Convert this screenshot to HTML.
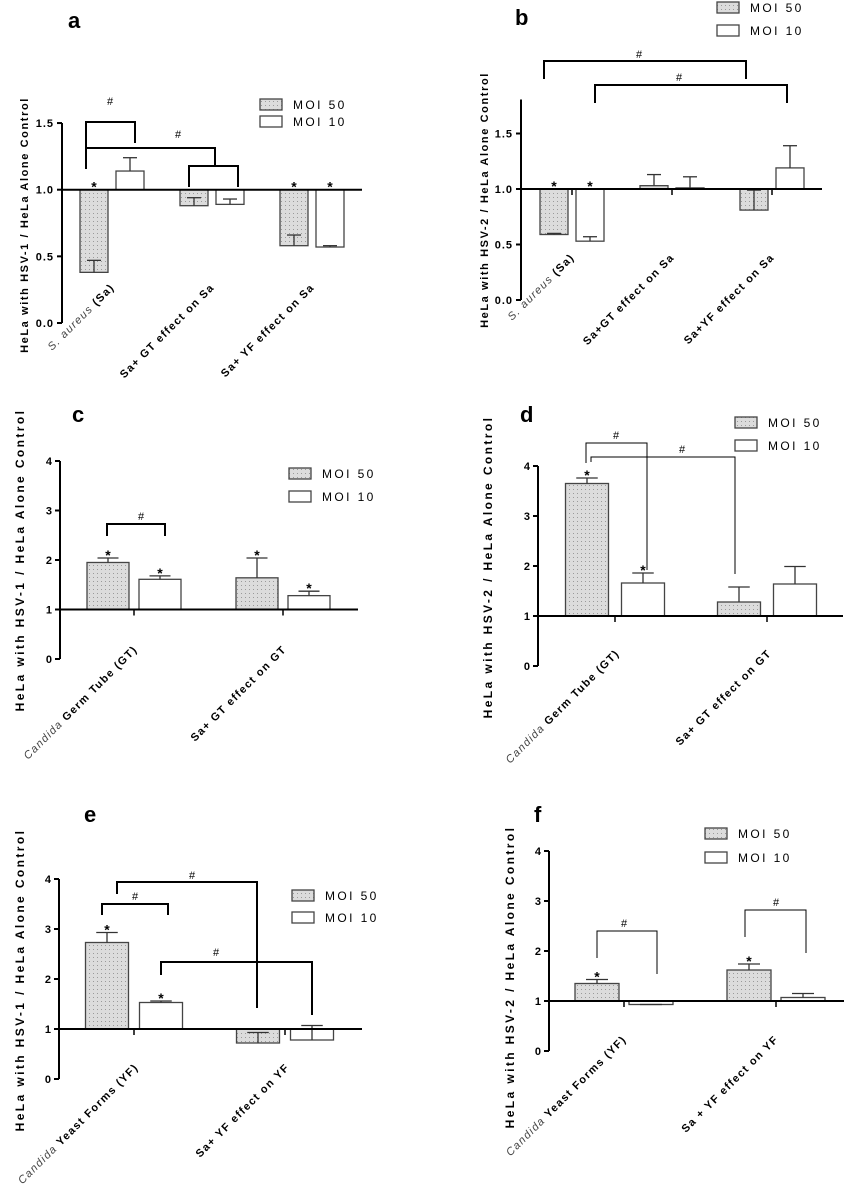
<!DOCTYPE html>
<html><head><meta charset="utf-8">
<style>
html,body{margin:0;padding:0;background:#fff;}
svg{display:block;font-family:"Liberation Sans",sans-serif;}
</style></head>
<body>
<svg id="fig" width="844" height="1200" viewBox="0 0 844 1200" xmlns="http://www.w3.org/2000/svg">
<defs>
<pattern id="dots" width="4" height="4" patternUnits="userSpaceOnUse">
<rect width="4" height="4" fill="#dcdcdc"/>
<rect x="1" y="1" width="1" height="1" fill="#9a9a9a"/>
</pattern>
</defs>
</svg>
<script>
// ---- data ----
const aCats = ["S. aureus (Sa)", "Sa+ GT effect on Sa", "Sa+ YF effect on Sa"];
const aMoi50 = [0.38, 0.88, 0.58];
const aMoi50Err = [0.47, 0.94, 0.66];
const aMoi10 = [1.14, 0.89, 0.57];
const aMoi10Err = [1.24, 0.93, 0.58];
const aTicks = ["0.0", "0.5", "1.0", "1.5"];
const aTickVals = [0, 0.5, 1, 1.5];

const bCats = ["S. aureus (Sa)", "Sa+GT effect on Sa", "Sa+YF effect on Sa"];
const bMoi50 = [0.59, 1.03, 0.81];
const bMoi50Err = [0.60, 1.13, 0.99];
const bMoi10 = [0.53, 1.01, 1.19];
const bMoi10Err = [0.57, 1.11, 1.39];
const bTicks = ["0.0", "0.5", "1.0", "1.5"];
const bTickVals = [0, 0.5, 1, 1.5];

const cCats = ["Candida Germ Tube (GT)", "Sa+ GT effect on GT"];
const cMoi50 = [1.95, 1.64];
const cMoi50Err = [2.04, 2.04];
const cMoi10 = [1.61, 1.28];
const cMoi10Err = [1.68, 1.37];

const dCats = ["Candida Germ Tube (GT)", "Sa+ GT effect on GT"];
const dMoi50 = [3.65, 1.28];
const dMoi50Err = [3.76, 1.58];
const dMoi10 = [1.66, 1.64];
const dMoi10Err = [1.86, 1.99];

const eCats = ["Candida Yeast Forms (YF)", "Sa+ YF effect on YF"];
const eMoi50 = [2.73, 0.72];
const eMoi50Err = [2.93, 0.93];
const eMoi10 = [1.53, 0.78];
const eMoi10Err = [1.56, 1.07];

const fCats = ["Candida Yeast Forms (YF)", "Sa + YF effect on YF"];
const fMoi50 = [1.35, 1.62];
const fMoi50Err = [1.43, 1.74];
const fMoi10 = [0.93, 1.07];
const fMoi10Err = [0.93, 1.15];

const intTicks = ["0", "1", "2", "3", "4"];
const intTickVals = [0, 1, 2, 3, 4];

const NS = "http://www.w3.org/2000/svg";
const svg = document.getElementById("fig");
function mk(tag, attrs, parent, txt) {
  const e = document.createElementNS(NS, tag);
  for (const k in attrs) e.setAttribute(k, attrs[k]);
  if (txt !== undefined) e.textContent = txt;
  (parent || svg).appendChild(e);
  return e;
}

function panel(p) {
  const g = mk("g", {});
  
  
  const y = v => p.y0 - v * p.unit;
  const gx = i => p.cx + i * p.step;

  const lab = mk("text", {x: p.labX, y: p.labY, "font-size": 22, "font-weight": "bold"}, g, p.id);
  
  

  // y title
  const yt = mk("text", {x: 0, y: 0, "font-size": p.ytFs, "font-weight": "bold", "letter-spacing": p.ytLs,
    "text-anchor": "middle", transform: `translate(${p.ytX},${p.ytY}) rotate(-90)`}, g, p.yTitle);
  
  

  // y axis
  const ax = mk("line", {x1: p.x0, x2: p.x0, y1: y(p.tickVals[p.tickVals.length - 1]) - (p.axExtra || 0), y2: y(0), stroke: "#000", "stroke-width": 2}, g);
  
  
  p.tickVals.forEach((v, i) => {
    const t = mk("line", {x1: p.x0 - 5, x2: p.x0, y1: y(v), y2: y(v), stroke: "#000", "stroke-width": 2}, g);
    
    
    const tl = mk("text", {x: p.x0 - 8, y: y(v) + 4, "font-size": p.tickFs, "font-weight": "bold", "text-anchor": "end", "letter-spacing": p.tickLs}, g, p.ticks[i]);
    
    
  });

  // bars
  const series = [[p.m50, p.e50, "url(#dots)", -p.off, "moi50"], [p.m10, p.e10, "#fff", p.off, "moi10"]];
  series.forEach(s => {
    s[0].forEach((v, i) => {
      const cx = gx(i) + s[3];
      const top = Math.min(y(v), y(1)), h = Math.abs(y(v) - y(1));
      const r = mk("rect", {x: cx - p.bw / 2, y: top, width: p.bw, height: Math.max(h, 1), fill: s[2], stroke: "#444", "stroke-width": 1.3}, g);
      
      
      const ev = s[1][i];
      const el = mk("line", {x1: cx, x2: cx, y1: y(v), y2: y(ev), stroke: "#333", "stroke-width": 1.3}, g);
      
      
      const cap = mk("line", {x1: cx - p.bw / 4, x2: cx + p.bw / 4, y1: y(ev), y2: y(ev), stroke: "#333", "stroke-width": 1.3}, g);
      
      
    });
  });
  // baseline
  const bl = mk("line", {x1: p.x0, x2: p.blEnd, y1: y(1), y2: y(1), stroke: "#000", "stroke-width": 2}, g);
  
  
  p.cats.forEach((c, i) => {
    if (p.xTicks) {
      const t = mk("line", {x1: gx(i), x2: gx(i), y1: y(1), y2: y(1) + 6, stroke: "#000", "stroke-width": 1.5}, g);
      
      
    }
    const ex = gx(i) + p.lblDx, ey = p.lblY;
    const tx = mk("text", {x: 0, y: 0, "font-size": 11, "font-weight": "bold", "letter-spacing": "1.3", "text-anchor": "end",
      transform: `translate(${ex},${ey}) rotate(-45)`}, g);
    
    
    const m = c.match(/^(S\. aureus|Candida)(.*)$/);
    if (m) {
      mk("tspan", {"font-weight": "normal", "font-style": "italic", fill: "#444"}, tx, m[1]);
      mk("tspan", {}, tx, m[2]);
    } else tx.textContent = c;
  });
  // stars
  p.stars.forEach(st => {
    const arr = st[0] === 50 ? [p.m50, p.e50, -p.off] : [p.m10, p.e10, p.off];
    const i = st[1];
    const v = arr[0][i], ev = arr[1][i];
    const top = v > 1 ? y(Math.max(v, ev)) : y(1);
    const s = mk("text", {x: gx(i) + arr[2], y: top + 2, "font-size": 14, "font-weight": "bold", "text-anchor": "middle"}, g, "*");
    
    
  });
  // brackets
  p.brackets.forEach(b => {
    const pl = mk("polyline", {points: `${b[0]},${b[3]} ${b[0]},${b[2]} ${b[1]},${b[2]} ${b[1]},${b[4]}`, fill: "none", stroke: "#000", "stroke-width": b[7] || 2}, g);
    
    
    const h = mk("text", {x: b[5], y: b[6], "font-size": 11, "text-anchor": "middle"}, g, "#");
    
    
  });
  // legend
  [["MOI 50", "url(#dots)", 0], ["MOI 10", "#fff", 1]].forEach(l => {
    const yy = p.legY + l[2] * p.legGap;
    const gr = mk("g", {}, g);
    
    
    mk("rect", {x: p.legX, y: yy, width: 22, height: 11, fill: l[1], stroke: "#444", "stroke-width": 1.3}, gr);
    mk("text", {x: p.legX + 33, y: yy + 10, "font-size": 12, "letter-spacing": "2.4"}, gr, l[0]);
  });
}

const t1 = "HeLa with HSV-1 / HeLa Alone Control";
const t2 = "HeLa with HSV-2 / HeLa Alone Control";

panel({id: "a", labX: 68, labY: 28, ytX: 28, ytY: 225, ytFs: 11, ytLs: 1.6, yTitle: t1, x0: 62, y0: 323, unit: 133.3,
  ticks: aTicks, tickVals: aTickVals, tickFs: 11, tickLs: 1, cx: 112, step: 100, off: 18, bw: 28, blEnd: 362,
  cats: aCats, m50: aMoi50, e50: aMoi50Err, m10: aMoi10, e10: aMoi10Err, xTicks: false, lblDx: 3, lblY: 288,
  stars: [[50, 0], [50, 2], [10, 2]],
  brackets: [[86, 135, 122, 168, 143, 110, 105], [86, 215, 148, 169, 166, 178, 138], [189, 238, 166, 187, 187, 0, -50]],
  legX: 260, legY: 99, legGap: 17});

panel({id: "b", labX: 515, labY: 25, ytX: 488, ytY: 200, ytFs: 11, ytLs: 1.6, yTitle: t2, x0: 521, y0: 300, unit: 111, axExtra: 34,
  ticks: bTicks, tickVals: bTickVals, tickFs: 11, tickLs: 1, cx: 572, step: 100, off: 18, bw: 28, blEnd: 822,
  cats: bCats, m50: bMoi50, e50: bMoi50Err, m10: bMoi10, e10: bMoi10Err, xTicks: true, lblDx: 3, lblY: 258,
  stars: [[50, 0], [10, 0]],
  brackets: [[544, 746, 61, 79, 79, 639, 58], [595, 787, 85, 103, 103, 679, 81]],
  legX: 717, legY: 2, legGap: 23});

panel({id: "c", labX: 72, labY: 422, ytX: 24, ytY: 560, ytFs: 12, ytLs: 2.4, yTitle: t1, x0: 60, y0: 659, unit: 49.5,
  ticks: intTicks, tickVals: intTickVals, tickFs: 11, tickLs: 0, cx: 134, step: 149, off: 26, bw: 42, blEnd: 358,
  cats: cCats, m50: cMoi50, e50: cMoi50Err, m10: cMoi10, e10: cMoi10Err, xTicks: true, lblDx: 4, lblY: 650,
  stars: [[50, 0], [10, 0], [50, 1], [10, 1]],
  brackets: [[107, 165, 524, 536, 536, 141, 520]],
  legX: 289, legY: 468, legGap: 23});

panel({id: "d", labX: 520, labY: 422, ytX: 492, ytY: 567, ytFs: 12, ytLs: 2.4, yTitle: t2, x0: 538, y0: 666, unit: 50,
  ticks: intTicks, tickVals: intTickVals, tickFs: 11, tickLs: 0, cx: 615, step: 152, off: 28, bw: 43, blEnd: 843,
  cats: dCats, m50: dMoi50, e50: dMoi50Err, m10: dMoi10, e10: dMoi10Err, xTicks: true, lblDx: 5, lblY: 654,
  stars: [[50, 0], [10, 0]],
  brackets: [[586, 647, 443, 463, 570, 616, 439, 1], [591, 735, 457, 462, 574, 682, 453, 1]],
  legX: 735, legY: 417, legGap: 23});

panel({id: "e", labX: 84, labY: 822, ytX: 24, ytY: 980, ytFs: 12, ytLs: 2.4, yTitle: t1, x0: 59, y0: 1079, unit: 50,
  ticks: intTicks, tickVals: intTickVals, tickFs: 11, tickLs: 0, cx: 134, step: 151, off: 27, bw: 43, blEnd: 362,
  cats: eCats, m50: eMoi50, e50: eMoi50Err, m10: eMoi10, e10: eMoi10Err, xTicks: true, lblDx: 5, lblY: 1068,
  stars: [[50, 0], [10, 0]],
  brackets: [[117, 257, 882, 894, 1008, 192, 879], [102, 168, 904, 915, 915, 135, 900], [161, 312, 962, 975, 1015, 216, 956]],
  legX: 292, legY: 890, legGap: 22});

panel({id: "f", labX: 534, labY: 822, ytX: 514, ytY: 977, ytFs: 12, ytLs: 2.4, yTitle: t2, x0: 549, y0: 1051, unit: 50,
  ticks: intTicks, tickVals: intTickVals, tickFs: 11, tickLs: 0, cx: 624, step: 152, off: 27, bw: 44, blEnd: 851,
  cats: fCats, m50: fMoi50, e50: fMoi50Err, m10: fMoi10, e10: fMoi10Err, xTicks: true, lblDx: 3, lblY: 1040,
  stars: [[50, 0], [50, 1]],
  brackets: [[597, 657, 931, 958, 974, 624, 927, 1], [745, 806, 910, 937, 953, 776, 906, 1]],
  legX: 705, legY: 828, legGap: 24});
</script>
</body></html>
